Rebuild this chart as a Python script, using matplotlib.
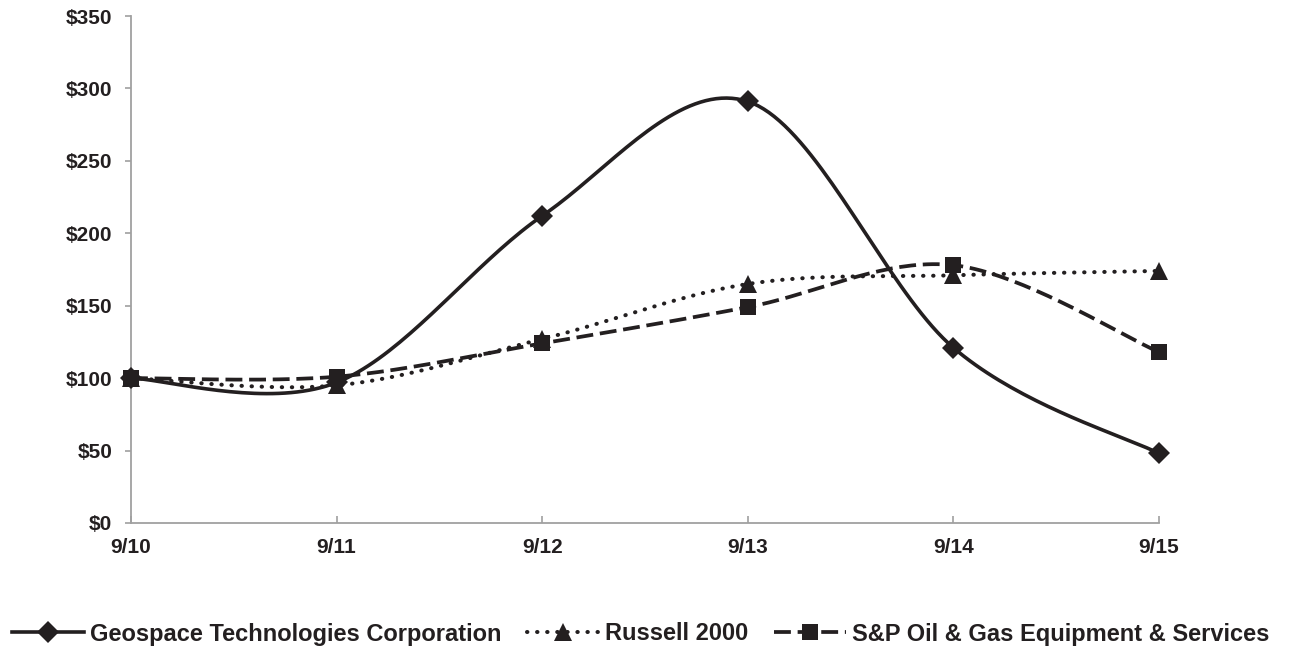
import numpy as np
import matplotlib
matplotlib.use('Agg')
import matplotlib.pyplot as plt
from matplotlib.lines import Line2D
from matplotlib.legend_handler import HandlerLine2D

dates = ['9/10', '9/11', '9/12', '9/13', '9/14', '9/15']
geospace = [100, 97, 212, 291, 121, 48]
russell = [100, 95, 127, 165, 171, 174]
sp_oil = [100, 101, 124, 149, 178, 118]
yticks = [0, 50, 100, 150, 200, 250, 300, 350]

plt.rcParams['font.family'] = ['Liberation Sans', 'DejaVu Sans']
plt.rcParams['font.weight'] = 'bold'

col = '#231f20'


def smooth(xs, ys, n=40):
    # excel-like smoothed line (cubic bezier, catmull-rom tangents)
    p = np.column_stack([xs, ys]).astype(float)
    p = np.vstack([p[0], p, p[-1]])
    out = []
    for i in range(1, len(p) - 2):
        p0, p1, p2, p3 = p[i - 1], p[i], p[i + 1], p[i + 2]
        c1 = p1 + (p2 - p0) / 6
        c2 = p2 - (p3 - p1) / 6
        t = np.linspace(0, 1, n)[:, None]
        seg = (1 - t) ** 3 * p1 + 3 * (1 - t) ** 2 * t * c1 + 3 * (1 - t) * t ** 2 * c2 + t ** 3 * p2
        out.append(seg if i == 1 else seg[1:])
    out = np.vstack(out)
    return out[:, 0], out[:, 1]


def style_line(ln, dash):
    if dash is not None:
        ln.set_dashes(dash[0])
        ln.set_dash_capstyle(dash[1])


fig = plt.figure(figsize=(12.89, 6.49), dpi=100)
ax = fig.add_axes([131 / 1289, 1 - 523 / 649, (1159 - 131) / 1289, (523 - 16) / 649])

x = np.arange(len(dates))
series = [
    (geospace, 'Geospace Technologies Corporation', '-', 'D', 11.5, 2.6, None),
    (russell, 'Russell 2000', '--', '^', 12.5, 2.9, ((0.1, 2.4), 'round')),
    (sp_oil, 'S&P Oil & Gas Equipment & Services', '--', 's', 11, 2.7, ((4.5, 1.8), 'butt')),
]
handles = []
for vals, name, ls, mk, ms, lw, dash in series:
    sx, sy = smooth(x, vals)
    ln, = ax.plot(sx, sy, color=col, lw=lw, ls=ls)
    style_line(ln, dash)
    ax.plot(x, vals, ls='none', marker=mk, ms=ms, mew=0, color=col, clip_on=False, zorder=5)
    h = Line2D([0, 1], [0, 0], color=col, lw=lw, ls=ls, marker=mk, ms=ms)
    h.dash_info = dash
    handles.append((h, name))

ax.set_xlim(0, 5)
ax.set_ylim(0, 350)
ax.set_xticks(x)
ax.set_xticklabels(dates)
ax.set_yticks(yticks)
ax.set_yticklabels(['$%d' % v for v in yticks])
for s in ['top', 'right']:
    ax.spines[s].set_visible(False)
for s in ['left', 'bottom']:
    ax.spines[s].set_color('#a0a0a0')
    ax.spines[s].set_linewidth(1.3)
ax.tick_params(axis='y', direction='out', length=4.5, width=1.2, color='#a0a0a0', labelsize=15, pad=9)
ax.tick_params(axis='x', direction='in', length=5, width=1.2, color='#a0a0a0', labelsize=15, pad=11)
for lbl in ax.get_xticklabels() + ax.get_yticklabels():
    lbl.set_fontweight('bold')
    lbl.set_color(col)


class MidMarker(HandlerLine2D):
    def create_artists(self, legend, orig, xd, yd, w, h, fs, trans):
        y = h / 2 - yd
        line = Line2D([-xd, w - xd], [y, y], color=col, lw=orig.get_linewidth(), ls=orig.get_linestyle(), transform=trans)
        style_line(line, orig.dash_info)
        mk = Line2D([w / 2 - xd], [y], marker=orig.get_marker(), ms=orig.get_markersize(), mew=0,
                    color=col, ls='none', transform=trans)
        return [line, mk]


leg = fig.legend([h for h, _ in handles], [n for _, n in handles], loc='center', bbox_to_anchor=(0.497, 1 - 634 / 649),
                 ncol=3, frameon=False, handlelength=3.05, handletextpad=0.25, columnspacing=1.1,
                 prop={'size': 17, 'weight': 'bold'}, handler_map={Line2D: MidMarker()})
for t in leg.get_texts():
    t.set_color(col)

fig.savefig('out.png', dpi=100)
